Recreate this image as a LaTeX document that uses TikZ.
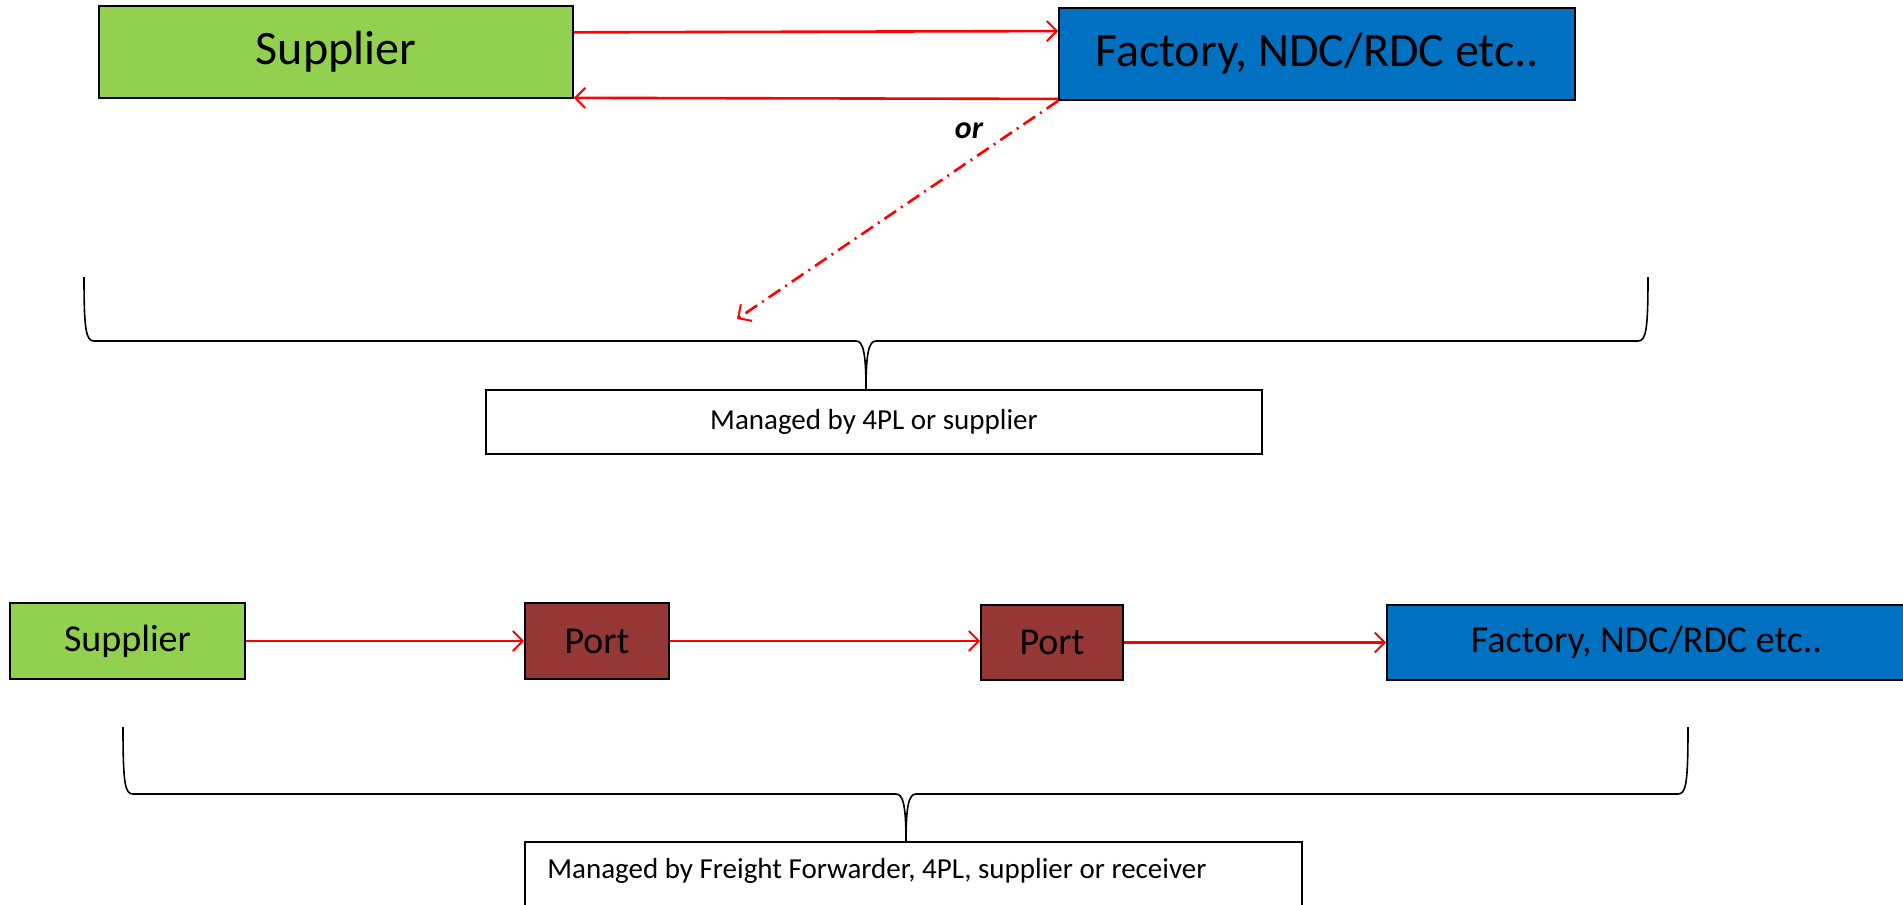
\documentclass[tikz,border=0pt]{standalone}
\usepackage{fontspec}
\setmainfont{Carlito}
\usetikzlibrary{arrows.meta,calc}
\definecolor{sgreen}{HTML}{92D050}
\definecolor{fblue}{HTML}{0070C0}
\definecolor{pbrown}{HTML}{953735}
\begin{document}
\begin{tikzpicture}[x=0.5pt,y=-0.5pt,
  box/.style={draw=black,line width=0.8pt,inner sep=0pt},
  flow/.style={draw=red,line width=1.3pt,-{Straight Barb[length=5pt,width=10pt,line width=1pt]}},
  brace/.style={draw=black,line width=0.8pt},
  big/.style={font=\fontsize{24}{28}\selectfont},
  mid/.style={font=\fontsize{19}{22}\selectfont},
  small/.style={font=\fontsize{14.5}{17}\selectfont}]
\useasboundingbox (0,0) rectangle (1903,905);
\clip (0,0) rectangle (1903,905);
% top row
\node[box,fill=sgreen,minimum width=237pt,minimum height=46pt,big] (s1) at (336,52) {Supplier};
\node[box,fill=fblue,minimum width=258pt,minimum height=46pt,big] (f1) at (1317,54) {Factory, NDC/RDC etc..};
\draw[flow] ($(s1.north east)!0.29!(s1.south east)$) -- ($(f1.north west)!0.255!(f1.south west)$);
\draw[flow] ($(f1.north west)!0.98!(f1.south west)$) -- ($(s1.north east)!0.99!(s1.south east)$);
\node[font=\fontsize{16}{18}\selectfont\bfseries\itshape] (or) at (969,131) {or};
\coordinate (dend) at (737,319);
\draw[flow,dash pattern=on 7pt off 3pt on 1pt off 3pt] (f1.south west) -- (dend);
% brace 1
\node[box,minimum width=388pt,minimum height=32pt,small] (b1) at (874,422) {Managed by 4PL or supplier};
\coordinate (tip1) at (866,390);
\draw[brace] (84,277) .. controls (84,330) and (86,341) .. (94,341) -- (856,341)
  .. controls (863,341) and (866,352) .. (tip1)
  .. controls (866,352) and (869,341) .. (876,341) -- (1638,341)
  .. controls (1646,341) and (1648,330) .. (1648,277);
% bottom row
\node[box,fill=sgreen,minimum width=117.5pt,minimum height=38pt,mid] (s2) at (127.5,641) {Supplier};
\node[box,fill=pbrown,minimum width=72pt,minimum height=38pt,mid] (p1) at (597,641) {Port};
\node[box,fill=pbrown,minimum width=71pt,minimum height=37.5pt,mid] (p2) at (1052,642.5) {Port};
\node[box,fill=fblue,minimum width=259.5pt,minimum height=37.5pt,mid] (f2) at (1646.5,642.5) {Factory, NDC/RDC etc..};
\draw[flow] (s2.east) -- (p1.west);
\draw[flow] (p1.east) -- (p1.east -| p2.west);
\draw[flow] (p2.east) -- (p2.east -| f2.west);
% brace 2
\node[box,minimum width=388.5pt,minimum height=38pt] (b2) at (913.5,880) {};
\node[anchor=west,small,inner sep=0pt] (t2) at (547,871) {Managed by Freight Forwarder, 4PL, supplier or receiver};
\coordinate (tip2) at (906,842);
\draw[brace] (123,727) .. controls (123,784) and (125,794) .. (133,794) -- (896,794)
  .. controls (903,794) and (906,805) .. (tip2)
  .. controls (906,805) and (909,794) .. (916,794) -- (1678,794)
  .. controls (1686,794) and (1688,784) .. (1688,727);
\end{tikzpicture}
\end{document}
